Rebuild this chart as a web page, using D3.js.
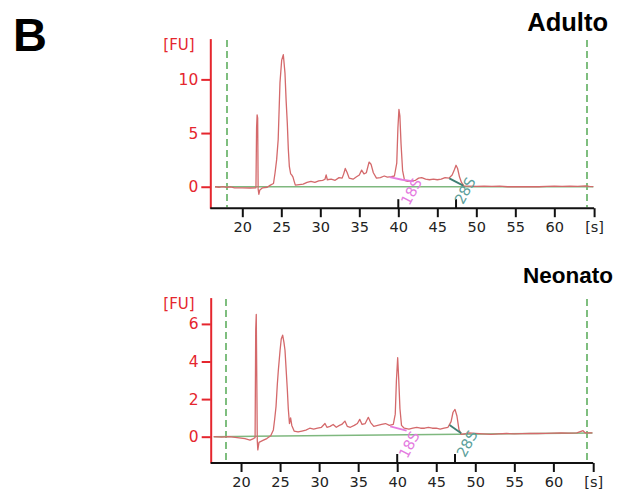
<!DOCTYPE html>
<html><head><meta charset="utf-8">
<script src="https://cdn.jsdelivr.net/npm/d3@7"></script>
<style>body{margin:0;background:#fff}svg{display:block}</style>
</head><body>
<script>
// ---- data ----
const xTickValues = [20,25,30,35,40,45,50,55,60];
const xEndTick = 65.1;
const xDomain = [16, 65.1];
const adultoYTicks = [0,5,10];
const neonatoYTicks = [0,2,4,6];
const adultoYDomain = [-2, 13.8];
const neonatoYDomain = [-1.4, 7.4];
const windowMarkers = [18.1, 64.25];
const rRNAMarkers = [40.0, 47.4];
const rRNALabels = ["18S", "28S"];

const adultoTrace = [[16.5,0.0],[17,-0.05],[17.5,0.02],[18,-0.05],[18.5,-0.02],[19,-0.1],[20,-0.1],[21,-0.12],[21.75,-0.1],[21.83,5.5],[21.9,6.7],[21.97,6.4],[22.03,-0.2],[22.12,-0.7],[22.25,-0.3],[22.6,-0.1],[23.2,-0.05],[23.6,0.15],[24.0,0.3],[24.2,1.3],[24.4,2.5],[24.6,4.4],[24.83,9.7],[25.05,11.8],[25.26,12.3],[25.47,10.6],[25.62,8.0],[25.77,5.9],[25.9,3.5],[26.03,1.9],[26.2,1.2],[26.33,1.1],[26.5,0.9],[26.65,0.5],[26.8,0.15],[27.3,0.2],[27.8,0.25],[28.3,0.4],[28.8,0.5],[29.3,0.4],[29.8,0.55],[30.3,0.6],[30.6,0.7],[30.75,1.1],[30.9,0.65],[31.4,0.7],[31.9,0.6],[32.4,0.85],[32.8,0.8],[33.0,1.2],[33.2,1.7],[33.45,1.3],[33.7,0.8],[34.2,0.7],[34.6,0.9],[35.0,1.1],[35.3,1.55],[35.6,1.2],[35.9,1.3],[36.25,2.3],[36.5,2.1],[36.8,1.3],[37.2,0.8],[37.7,0.85],[38.2,1.0],[38.6,0.9],[39.1,0.95],[39.5,1.0],[39.8,2.2],[39.95,5.5],[40.08,7.2],[40.2,6.6],[40.35,4.0],[40.55,1.5],[40.8,0.6],[41.2,0.5],[41.7,0.55],[42.2,0.6],[42.6,0.8],[43.0,0.85],[43.5,0.7],[44.0,0.65],[44.5,0.7],[45.0,0.65],[45.5,0.7],[46.0,0.85],[46.5,0.8],[46.9,1.1],[47.2,1.6],[47.4,2.0],[47.6,1.7],[47.85,0.9],[48.1,0.4],[48.4,0.08],[49,0.06],[50,0.03],[51,0.05],[52,0.03],[53,0.05],[54,0.0],[58,0.0],[59,0.03],[60,0.05],[61,0.03],[62,0.06],[63,0.03],[64,0.08],[64.5,0.03],[65,0.01]];

const neonatoTrace = [[16.5,0.0],[17.5,-0.02],[18.5,0.0],[19.5,-0.05],[20.5,-0.1],[21.15,-0.18],[21.6,-0.1],[21.8,-0.05],[21.88,5.7],[21.95,6.5],[22.02,3.0],[22.08,-0.2],[22.15,-0.7],[22.3,-0.3],[22.8,-0.2],[23.3,-0.1],[23.8,0.05],[24.14,0.36],[24.3,0.9],[24.48,1.6],[24.65,2.8],[24.78,3.55],[25.0,4.6],[25.15,5.2],[25.33,5.4],[25.5,5.0],[25.63,4.6],[25.8,3.4],[25.93,2.5],[26.05,1.5],[26.2,0.7],[26.35,1.0],[26.5,0.6],[26.8,0.3],[27.3,0.25],[27.8,0.3],[28.3,0.35],[28.8,0.45],[29.3,0.4],[29.8,0.45],[30.3,0.5],[30.75,0.7],[31.0,0.5],[31.4,0.55],[31.8,0.65],[32.2,0.5],[32.6,0.6],[32.9,0.65],[33.3,0.83],[33.6,0.55],[34.0,0.5],[34.5,0.6],[34.9,0.7],[35.2,0.92],[35.5,0.65],[35.9,0.7],[36.3,1.03],[36.6,0.75],[37.0,0.55],[37.5,0.6],[38.0,0.65],[38.5,0.7],[39.0,0.6],[39.5,0.65],[39.75,1.2],[39.9,3.0],[40.06,4.2],[40.2,3.0],[40.35,1.5],[40.55,0.6],[40.9,0.45],[41.5,0.4],[42.0,0.45],[42.5,0.5],[43.0,0.45],[43.5,0.45],[44.0,0.5],[44.5,0.45],[45.0,0.45],[45.5,0.4],[46.0,0.45],[46.5,0.5],[46.9,0.8],[47.15,1.3],[47.4,1.45],[47.65,1.1],[47.9,0.4],[48.2,0.12],[48.6,0.15],[49.2,0.2],[50,0.18],[51,0.15],[52,0.12],[53,0.15],[54,0.17],[55,0.15],[56,0.16],[57,0.17],[58,0.17],[59,0.18],[60,0.19],[61,0.2],[62,0.19],[63,0.2],[63.8,0.32],[64.1,0.2],[65,0.2]];

const adultoBaseline = [[16.5,0],[65,0]];
const neonatoBaseline = [[16.5,0],[65,0.2]];
const adulto18S = [[38.9,0.9],[40.5,0.65],[42.0,0.5]];
const adulto28S = [[46.54,0.78],[48.33,0.1]];
const neonato18S = [[39.1,0.55],[41.2,0.32]];
const neonato28S = [[46.7,0.62],[48.2,0.18]];

// ---- layout ----
const W = 617, H = 493;
const svg = d3.select("body").append("svg").attr("width", W).attr("height", H);
svg.append("rect").attr("width", W).attr("height", H).attr("fill", "#fff");

const RED = "#e5262e", TRACE = "#d4696b", GREEN = "#7fb87f", DASH = "#5fae5f", PINK = "#e47be0", TEAL = "#5c9f9b", DKTEAL = "#3f7f74";
const FONT = "DejaVu Sans, Verdana, sans-serif";

svg.append("text").attr("x", 13).attr("y", 51).text("B")
  .attr("font-family", "Liberation Sans, Arial, sans-serif").attr("font-weight", "bold").attr("font-size", 47).attr("fill", "#000");

const panels = [
  {title: "Adulto", trace: adultoTrace, base: adultoBaseline, yTicks: adultoYTicks, yDomain: adultoYDomain,
   xRange: [211.1, 594.1], yRange: [208.2, 38.6], l18: adulto18S, l28: adulto28S, titleX: 608, titleY: 31, titleSize: 25.5,
   axisX: 210.3, dashTop: 40, lab: [[13, 5], [9, 4]]},
  {title: "Neonato", trace: neonatoTrace, base: neonatoBaseline, yTicks: neonatoYTicks, yDomain: neonatoYDomain,
   xRange: [209.8, 593.2], yRange: [463.0, 297.6], l18: neonato18S, l28: neonato28S, titleX: 613, titleY: 283, titleSize: 22.5,
   axisX: 210.7, dashTop: 299, lab: [[12, 8], [12, 7]]}
];

panels.forEach(p => {
  const x = d3.scaleLinear().domain(xDomain).range(p.xRange);
  const y = d3.scaleLinear().domain(p.yDomain).range(p.yRange);
  const g = svg.append("g");
  const line = d3.line().x(d => x(d[0])).y(d => y(d[1]));
  const yBottom = p.yRange[0];

  // dashed window lines
  g.selectAll(".dash").data(windowMarkers).join("line")
    .attr("x1", d => Math.round(x(d))).attr("x2", d => Math.round(x(d))).attr("y1", p.dashTop).attr("y2", yBottom - 1)
    .attr("stroke", DASH).attr("stroke-width", 1.6).attr("stroke-dasharray", "7,4");

  // baseline
  g.append("path").attr("d", line(p.base)).attr("fill", "none").attr("stroke", GREEN).attr("stroke-width", 1.4);
  // trace
  g.append("path").attr("d", line(p.trace)).attr("fill", "none").attr("stroke", TRACE).attr("stroke-width", 1.3).attr("stroke-linejoin", "round");
  // rRNA peak baselines
  g.append("path").attr("d", line(p.l18)).attr("fill", "none").attr("stroke", PINK).attr("stroke-width", 1.8);
  g.append("path").attr("d", line(p.l28)).attr("fill", "none").attr("stroke", DKTEAL).attr("stroke-width", 1.8);

  // y axis
  const ya = g.append("g").attr("transform", `translate(${p.axisX},0)`)
    .call(d3.axisLeft(y).tickValues(p.yTicks).tickSize(9).tickSizeOuter(0).tickPadding(3));
  ya.select(".domain").attr("stroke", RED).attr("stroke-width", 2);
  ya.selectAll(".tick line").attr("stroke", RED).attr("stroke-width", 2);
  ya.selectAll(".tick text").attr("fill", RED).attr("font-size", 15.5).attr("font-family", FONT);

  // x axis
  const xa = g.append("g").attr("transform", `translate(0,${yBottom})`)
    .call(d3.axisBottom(x).tickValues([...xTickValues, xEndTick]).tickSize(9).tickSizeOuter(0).tickPadding(5)
      .tickFormat(d => d === xEndTick ? "[s]" : d));
  xa.select(".domain").attr("stroke", "#111").attr("stroke-width", 2).attr("d", `M${p.axisX},0H${p.xRange[1]}`);
  xa.selectAll(".tick line").attr("stroke", "#111").attr("stroke-width", 2);
  xa.selectAll(".tick text").attr("fill", "#222").attr("font-size", 14.5).attr("font-family", FONT);

  // rRNA markers above x-axis
  g.selectAll(".mk").data(rRNAMarkers).join("line")
    .attr("x1", d => x(d)).attr("x2", d => x(d)).attr("y1", yBottom).attr("y2", yBottom - 9)
    .attr("stroke", "#111").attr("stroke-width", 2);

  // rRNA labels
  rRNALabels.forEach((t, i) => {
    const cx = x(rRNAMarkers[i]) + p.lab[i][0], cy = y(0) + p.lab[i][1];
    g.append("text").attr("transform", `translate(${cx},${cy}) rotate(-62)`)
      .attr("text-anchor", "middle").attr("dy", "0.35em")
      .attr("font-size", 14.5).attr("font-family", FONT)
      .attr("fill", i === 0 ? PINK : TEAL).text(t);
  });

  // [FU]
  g.append("text").attr("x", 179).attr("y", p.dashTop + 10).attr("text-anchor", "middle")
    .attr("font-size", 15).attr("font-family", FONT).attr("fill", RED).text("[FU]");

  // title
  g.append("text").attr("x", p.titleX).attr("y", p.titleY).attr("text-anchor", "end")
    .attr("font-family", "Liberation Sans, Arial, sans-serif").attr("font-weight", "bold").attr("font-size", p.titleSize)
    .attr("fill", "#000").text(p.title);
});
</script>
</body></html>
